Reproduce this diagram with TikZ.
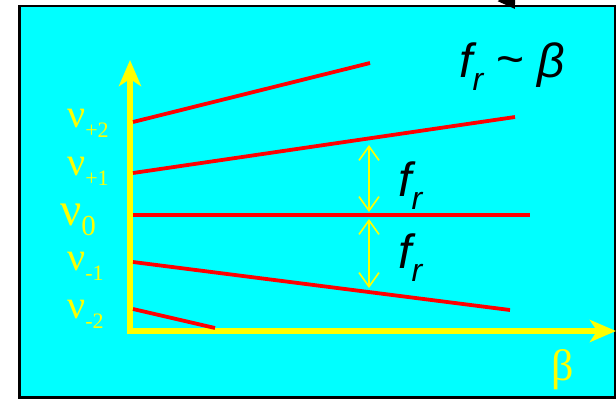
\documentclass[tikz,border=0pt]{standalone}
\usepackage{fontspec}
\setmainfont{Liberation Serif}
\newfontfamily\frfont{Liberation Sans}
\usetikzlibrary{arrows.meta}
\definecolor{bgcyan}{RGB}{0,255,255}
\definecolor{axyellow}{RGB}{255,255,0}
\definecolor{modered}{RGB}{255,0,0}
\newcommand{\nulabel}[3]{{\fontsize{#1}{#1}\selectfont ν}{\fontsize{#2}{#2}\selectfont\raisebox{-10pt}{#3}}}
\newcommand{\frtext}{{\itshape f}{\fontsize{32}{32}\selectfont\raisebox{-13pt}{\itshape r}}}

\begin{document}
\begin{tikzpicture}[x=1pt,y=-1pt,
  axis/.style={axyellow,line width=6pt,-{Stealth[length=26pt,width=22pt,inset=7pt]}},
  mode/.style={modered,line width=3.8pt},
  gap/.style={axyellow,line width=1.6pt,
              {Straight Barb[length=14pt,width=20pt]}-{Straight Barb[length=14pt,width=20pt]}},
  nulab/.style={text=axyellow,anchor=base west,inner sep=0pt},
  frlab/.style={font=\frfont\fontsize{48}{48}\selectfont,anchor=base west,inner sep=0pt}]
\useasboundingbox (0,0) rectangle (616,400);
\draw[fill=bgcyan,line width=2.5pt] (19.5,6) rectangle (615,397.5);
% pointer coming in from above
\coordinate (ptrstart) at (490,-30);
\coordinate (ptrend) at (515,9);
\draw[line width=3pt,-{Triangle[length=16pt,width=20pt]}] (ptrstart) -- (ptrend);
% axes
\coordinate (ybot) at (130,334);
\coordinate (ytop) at (130,60);
\coordinate (xleft) at (127,331);
\coordinate (xright) at (616,331);
\draw[axis] (ybot) -- (ytop);
\draw[axis] (xleft) -- (xright);
% mode lines
\coordinate (p2a) at (133,122);  \coordinate (p2b) at (370,63);
\coordinate (p1a) at (133,173);  \coordinate (p1b) at (515,117);
\coordinate (z0a) at (133,215);  \coordinate (z0b) at (530,215);
\coordinate (m1a) at (133,262);  \coordinate (m1b) at (510,310);
\coordinate (m2a) at (133,309);  \coordinate (m2b) at (215,328);
\draw[mode] (p2a) -- (p2b);
\draw[mode] (p1a) -- (p1b);
\draw[mode] (z0a) -- (z0b);
\draw[mode] (m1a) -- (m1b);
\draw[mode] (m2a) -- (m2b);
% spacing arrows
\coordinate (gtop) at (369,145);
\coordinate (gmid1) at (369,212);
\coordinate (gmid2) at (369,219);
\coordinate (gbot) at (369,288);
\draw[gap] (gtop) -- (gmid1);
\draw[gap] (gmid2) -- (gbot);
% labels
\node[nulab] (nup2) at (67,127) {\nulabel{40}{22}{+2}};
\node[nulab] (nup1) at (67,175) {\nulabel{40}{22}{+1}};
\node[nulab] (nu0) at (60,225) {\nulabel{47}{29}{0}};
\node[nulab] (num1) at (67,270) {\nulabel{40}{22}{-1}};
\node[nulab] (num2) at (67,318) {\nulabel{40}{22}{-2}};
\node[nulab,font=\fontsize{44}{44}\selectfont] (betalab) at (551,380) {β};
\node[frlab] (frup) at (398,196) {\frtext};
\node[frlab] (frdown) at (398,268) {\frtext};
\node[frlab] (frlaw) at (459,77) {\frtext\ \raisebox{2pt}{\textasciitilde}\ {\itshape β}};
\end{tikzpicture}
\end{document}
